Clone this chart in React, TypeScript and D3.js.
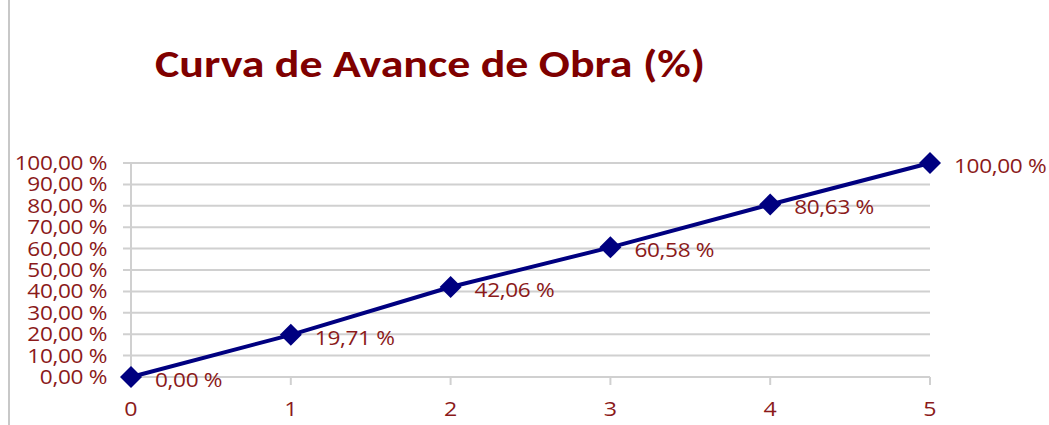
import React from "react";
import * as d3 from "d3";

const periods = [0, 1, 2, 3, 4, 5];
const avance = [0, 19.71, 42.06, 60.58, 80.63, 100];
const yTicks = [0, 10, 20, 30, 40, 50, 60, 70, 80, 90, 100];
const title = "Curva de Avance de Obra (%)";

const fmt = (v: number) => v.toFixed(2).replace(".", ",") + " %";

export default function App() {
  const W = 1049, H = 425;
  const x = d3.scaleLinear().domain([0, 5]).range([131, 930]);
  const y = d3.scaleLinear().domain([0, 100]).range([377, 163]);
  const line = d3.line<number>().x((_, i) => x(periods[i])).y((d) => y(d));
  const red = "#8B1A1A";
  const font = "'Open Sans', 'Liberation Sans', sans-serif";
  const titleFont = "Carlito, 'Open Sans', 'Liberation Sans', sans-serif";
  const sx = 1.16;
  const diamond = (cx: number, cy: number, r: number) =>
    `M${cx},${cy - r}L${cx + r},${cy}L${cx},${cy + r}L${cx - r},${cy}Z`;
  return (
    <svg width={W} height={H} style={{ position: "absolute", left: 0, top: 0, background: "#fff" }}>
      <line x1={9} x2={9} y1={0} y2={H} stroke="#c8c8c8" strokeWidth={2} />
      <text x={155} y={77} fill="#7F0000" fontFamily={titleFont} fontWeight="bold" fontSize={38} textLength={550} lengthAdjust="spacingAndGlyphs">
        {title}
      </text>
      {yTicks.map((t) => (
        <g key={t}>
          <line x1={123} x2={930} y1={y(t)} y2={y(t)} stroke="#d0d0d0" strokeWidth={2} />
          <text transform={`translate(107,${y(t)}) scale(${sx},1)`} dy="0.36em" textAnchor="end" fill={red} fontFamily={font} fontSize={19.5} letterSpacing={-0.3}>
            {fmt(t)}
          </text>
        </g>
      ))}
      <line x1={x(0)} x2={x(0)} y1={y(100)} y2={y(0)} stroke="#d0d0d0" strokeWidth={2} />
      {periods.map((p) => (
        <g key={p}>
          <line x1={x(p)} x2={x(p)} y1={y(0)} y2={y(0) + 8} stroke="#d0d0d0" strokeWidth={2} />
          <text transform={`translate(${x(p)},409) scale(${sx},1)`} dy="0.36em" textAnchor="middle" fill={red} fontFamily={font} fontSize={20}>
            {p}
          </text>
        </g>
      ))}
      <path d={line(avance) || ""} fill="none" stroke="#000080" strokeWidth={4} />
      {avance.map((v, i) => (
        <g key={i}>
          <path d={diamond(x(periods[i]), y(v), 11)} fill="#000080" />
          <text transform={`translate(${x(periods[i]) + 24},${y(v) + 3}) scale(${sx},1)`} dy="0.36em" fill={red} fontFamily={font} fontSize={19.5} letterSpacing={-0.3}>
            {fmt(v)}
          </text>
        </g>
      ))}
    </svg>
  );
}
